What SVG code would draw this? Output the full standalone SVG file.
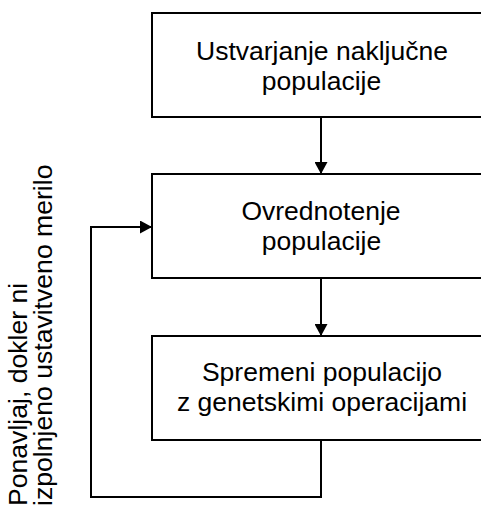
<svg xmlns="http://www.w3.org/2000/svg" width="481" height="509" viewBox="0 0 481 509">
<style>
.box{fill:#fff;stroke:#000;stroke-width:2}
.lbl{font-family:"Liberation Sans",Arial,sans-serif;font-size:26.5px;fill:#000;text-anchor:middle}
.side{font-family:"Liberation Sans",Arial,sans-serif;font-size:26.6px;fill:#000}
.conn{fill:none;stroke:#000;stroke-width:2}
</style>
<defs>
<marker id="arr" markerWidth="12" markerHeight="13" refX="12" refY="6.5" orient="auto" markerUnits="userSpaceOnUse">
<path d="M0,0 L12,6.5 L0,13 Z" fill="#000"/>
</marker>
</defs>
<rect width="481" height="509" fill="#fff"/>
<g id="connectors">
<line class="conn" x1="321" y1="117" x2="321" y2="174" marker-end="url(#arr)"/>
<line class="conn" x1="321" y1="278" x2="321" y2="336" marker-end="url(#arr)"/>
<polyline class="conn" points="321,440 321,497 91,497 91,227 152,227" marker-end="url(#arr)"/>
</g>
<g id="node1">
<rect class="box" x="152" y="13" width="340" height="104"/>
<text class="lbl" x="322" y="60">Ustvarjanje naključne</text>
<text class="lbl" x="321.5" y="90">populacije</text>
</g>
<g id="node2">
<rect class="box" x="152" y="174" width="340" height="104"/>
<text class="lbl" x="321" y="219.5">Ovrednotenje</text>
<text class="lbl" x="321.5" y="249.5">populacije</text>
</g>
<g id="node3">
<rect class="box" x="152" y="336" width="340" height="104"/>
<text class="lbl" x="322" y="381">Spremeni populacijo</text>
<text class="lbl" x="322" y="411">z genetskimi operacijami</text>
</g>
<g id="loop-label" transform="rotate(-90)">
<text class="side" x="-506" y="27">Ponavljaj, dokler ni</text>
<text class="side" x="-506" y="52">izpolnjeno ustavitveno merilo</text>
</g>
</svg>
